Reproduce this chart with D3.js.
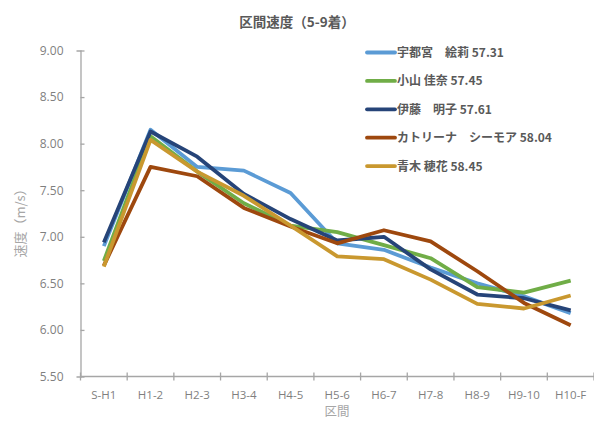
<!DOCTYPE html>
<html>
<head>
<meta charset="utf-8">
<script src="https://cdn.jsdelivr.net/npm/d3@7"></script>
<style>
    body { margin: 0; background: #fff; }
    text { font-family: "Noto Sans CJK JP", "Noto Sans", sans-serif; }
</style>
</head>
<body>
<script>
// chart data
var sections = ["S-H1", "H1-2", "H2-3", "H3-4", "H4-5", "H5-6", "H6-7", "H7-8", "H8-9", "H9-10", "H10-F"];
var runners = ["宇都宮　絵莉 57.31", "小山 佳奈 57.45", "伊藤　明子 57.61", "カトリーナ　シーモア 58.04", "青木 穂花 58.45"];
var utsunomiya = [6.90, 8.15, 7.75, 7.71, 7.47, 6.93, 6.86, 6.67, 6.50, 6.36, 6.18];
var koyama = [6.74, 8.08, 7.70, 7.36, 7.12, 7.05, 6.91, 6.77, 6.46, 6.40, 6.53];
var ito = [6.94, 8.13, 7.86, 7.46, 7.19, 6.96, 7.00, 6.65, 6.38, 6.34, 6.21];
var katrina = [6.69, 7.75, 7.65, 7.31, 7.11, 6.93, 7.07, 6.95, 6.63, 6.29, 6.05];
var aoki = [6.68, 8.04, 7.70, 7.44, 7.12, 6.79, 6.76, 6.54, 6.28, 6.23, 6.37];
var yTicks = [5.5, 6.0, 6.5, 7.0, 7.5, 8.0, 8.5, 9.0];
var colors = ["#5b9bd5", "#70ad47", "#264478", "#9e480e", "#c9982f"];

window.onload = function () {
    var width = 594;
    var height = 421;
    var left = 80.5, right = 594, top = 50.5, bottom = 376.5;
    var series = [utsunomiya, koyama, ito, katrina, aoki];

    var svg = d3.select("body")
        .append("svg")
        .attr("width", width)
        .attr("height", height);

    var x = d3.scaleBand()
        .domain(sections)
        .range([left, right]);
    var y = d3.scaleLinear()
        .domain([5.5, 9.0])
        .range([bottom, top]);

    // title
    svg.append("text")
        .attr("x", 297)
        .attr("y", 27)
        .attr("text-anchor", "middle")
        .style("font-size", "13.5px")
        .style("font-weight", "bold")
        .style("fill", "#595959")
        .text("区間速度（5-9着）");

    // y axis
    var yAxis = svg.append("g")
        .attr("transform", "translate(" + left + ",0)")
        .call(d3.axisLeft(y).tickValues(yTicks).tickFormat(d3.format(".2f")).tickSize(4).tickPadding(13));
    yAxis.selectAll(".tick line").attr("x2", 4);

    // x axis
    var xAxis = svg.append("g")
        .attr("transform", "translate(0," + bottom + ")")
        .call(d3.axisBottom(x).tickSize(4).tickPadding(9));
    xAxis.selectAll(".tick").remove();
    xAxis.selectAll(".bound")
        .data(d3.range(sections.length + 1))
        .enter()
        .append("line")
        .attr("x1", function (d) { return left + d * x.bandwidth(); })
        .attr("x2", function (d) { return left + d * x.bandwidth(); })
        .attr("y1", -4)
        .attr("y2", 4);
    xAxis.selectAll(".lbl")
        .data(sections)
        .enter()
        .append("text")
        .attr("x", function (d) { return x(d) + x.bandwidth() / 2; })
        .attr("y", 22)
        .attr("text-anchor", "middle")
        .text(function (d) { return d; });

    svg.selectAll(".domain, .tick line, g line")
        .style("stroke", "#a6a6a6")
        .style("stroke-width", 1.3);
    svg.selectAll("g text")
        .style("fill", "#7f7f7f")
        .style("font-size", "12px")
        .style("font-family", "'Open Sans', 'Noto Sans', sans-serif");
    xAxis.selectAll("text").style("font-size", "11.5px");
    xAxis.select(".domain").attr("d", "M" + left + ",0H" + right);

    // axis titles
    svg.append("text")
        .attr("x", 337)
        .attr("y", 416)
        .attr("text-anchor", "middle")
        .style("font-size", "12.5px")
        .style("fill", "#a6a6a6")
        .text("区間");
    svg.append("text")
        .attr("transform", "translate(25,220) rotate(-90)")
        .attr("text-anchor", "middle")
        .style("font-size", "13px")
        .style("fill", "#a6a6a6")
        .text("速度（m/s）");

    // lines
    var line = d3.line()
        .x(function (d, i) { return x(sections[i]) + x.bandwidth() / 2; })
        .y(function (d) { return y(d); });
    svg.selectAll(".series")
        .data(series)
        .enter()
        .append("path")
        .attr("class", "series")
        .attr("d", line)
        .style("fill", "none")
        .style("stroke", function (d, i) { return colors[i]; })
        .style("stroke-width", 3.8)
        .style("stroke-linejoin", "round");

    // legend
    var legend = svg.selectAll(".legend")
        .data(runners)
        .enter()
        .append("g")
        .attr("class", "legend")
        .attr("transform", function (d, i) { return "translate(367," + (52.5 + i * 28.4) + ")"; });
    legend.append("line")
        .attr("x1", 0)
        .attr("x2", 28)
        .style("stroke", function (d, i) { return colors[i]; })
        .style("stroke-width", 3.8)
        .style("stroke-linecap", "round");
    legend.append("text")
        .attr("x", 30)
        .attr("y", 4.5)
        .style("font-size", "12px")
        .style("font-weight", "bold")
        .style("fill", "#595959")
        .text(function (d) { return d; });
}
</script>
</body>
</html>
